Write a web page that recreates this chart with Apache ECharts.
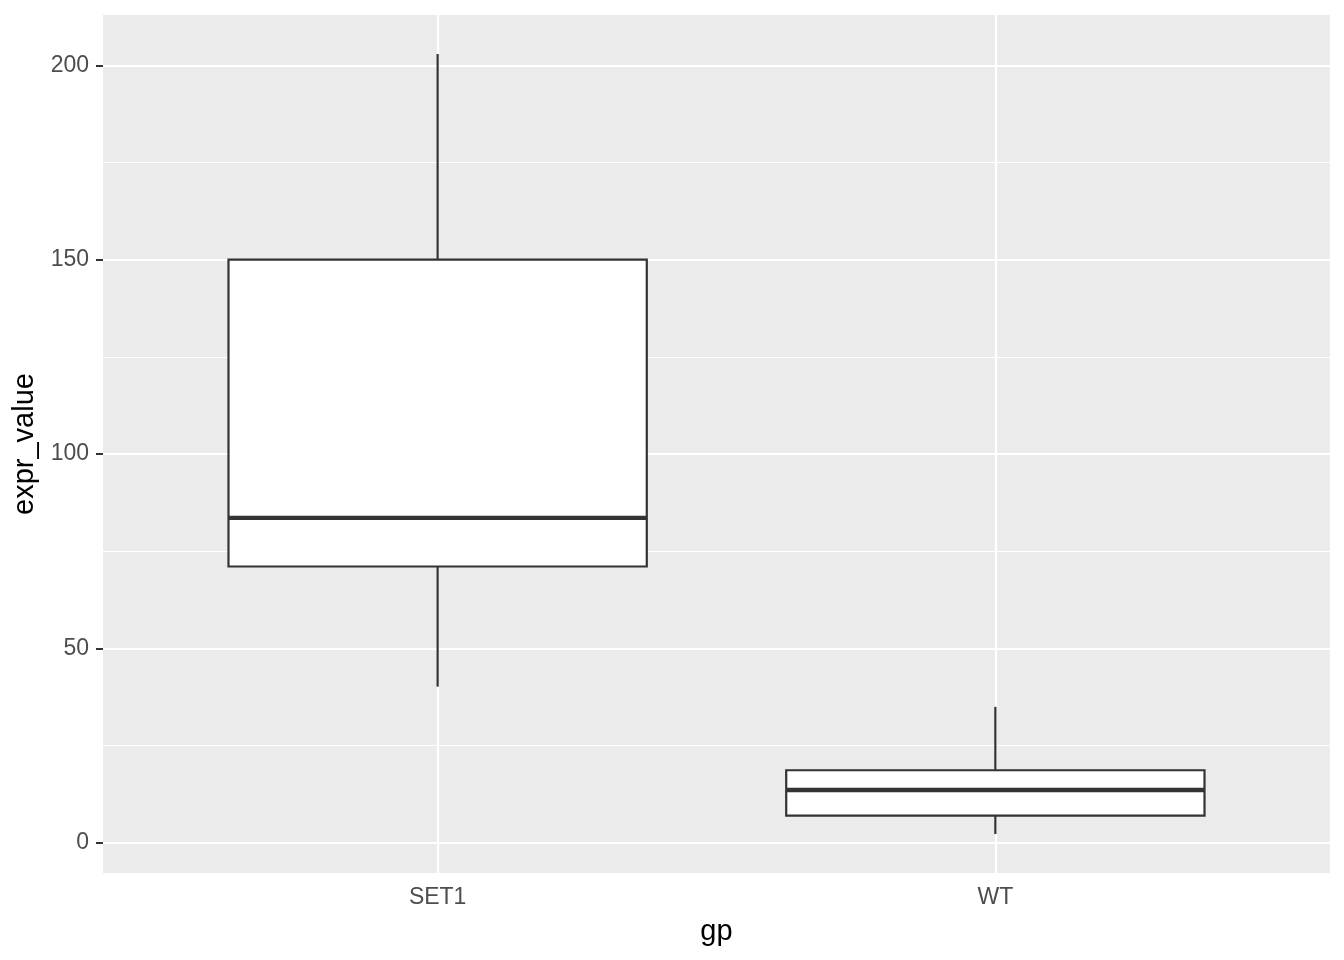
<!DOCTYPE html>
<html>
<head>
<meta charset="utf-8">
<script src="https://cdn.jsdelivr.net/npm/echarts@6/dist/echarts.min.js"></script>
<style>html,body{margin:0;padding:0;background:#fff}#c{width:1344px;height:960px}</style>
</head>
<body>
<div id="c"></div>
<script>
// Data
var categories = ['SET1', 'WT'];
var whiskerLow = [40.2, 2.3];
var q1 = [71.1, 7.0];
var median = [83.6, 13.6];
var q3 = [150.0, 18.7];
var whiskerHigh = [202.9, 35.0];
var yMajorTicks = [0, 50, 100, 150, 200];
var yMinorTicks = [25, 75, 125, 175];
var xTicks = [1, 2];

var boxData = categories.map(function (c, i) {
  return [i + 1, whiskerLow[i], q1[i], median[i], q3[i], whiskerHigh[i]];
});

var FONT = '"Liberation Sans", Arial, sans-serif';
var chart = echarts.init(document.getElementById('c'), null, {renderer: 'canvas'});

var gridMarks = [];
yMajorTicks.forEach(function (v) { gridMarks.push({yAxis: v, lineStyle: {width: 2.2}}); });
yMinorTicks.forEach(function (v) { gridMarks.push({yAxis: v, lineStyle: {width: 1.1}}); });
xTicks.forEach(function (v) { gridMarks.push({xAxis: v, lineStyle: {width: 2.2}}); });

chart.setOption({
  animation: false,
  grid: {left: 103, right: 14, top: 15, bottom: 87, show: true, backgroundColor: '#EBEBEB', borderWidth: 0},
  xAxis: {
    type: 'value', min: 0.4, max: 2.6,
    name: 'gp', nameLocation: 'middle', nameGap: 44,
    nameTextStyle: {color: '#000', fontSize: 29, fontFamily: FONT},
    axisLine: {show: false},
    axisTick: {show: true, customValues: xTicks, length: 7, lineStyle: {color: '#333', width: 2}},
    axisLabel: {customValues: xTicks, color: '#4D4D4D', fontSize: 23, fontFamily: FONT, margin: 13,
      formatter: function (v) { return categories[Math.round(v) - 1] || ''; }},
    splitLine: {show: false}
  },
  yAxis: {
    type: 'value', min: -7.73, max: 212.93,
    name: 'expr_value', nameLocation: 'middle', nameGap: 59,
    nameTextStyle: {color: '#000', fontSize: 29, fontFamily: FONT},
    axisLine: {show: false},
    axisTick: {show: true, customValues: yMajorTicks, length: 7, lineStyle: {color: '#333', width: 2}},
    axisLabel: {customValues: yMajorTicks, color: '#4D4D4D', fontSize: 23, fontFamily: FONT, margin: 14},
    splitLine: {show: false}
  },
  series: [
    {
      type: 'line', data: [], z: 1, silent: true,
      markLine: {silent: true, symbol: 'none', label: {show: false}, animation: false,
        lineStyle: {color: '#FFFFFF', type: 'solid'}, data: gridMarks}
    },
    {
      type: 'custom', z: 5, data: boxData,
      renderItem: function (params, api) {
        var x = api.value(0);
        var lo = api.coord([x, api.value(1)]);
        var b1 = api.coord([x, api.value(2)]);
        var md = api.coord([x, api.value(3)]);
        var b3 = api.coord([x, api.value(4)]);
        var hi = api.coord([x, api.value(5)]);
        var w = api.size([0.75, 0])[0];
        var stroke = {stroke: '#333333', lineWidth: 2.2};
        return {
          type: 'group',
          children: [
            {type: 'line', shape: {x1: hi[0], y1: hi[1], x2: b3[0], y2: b3[1]}, style: stroke},
            {type: 'line', shape: {x1: lo[0], y1: lo[1], x2: b1[0], y2: b1[1]}, style: stroke},
            {type: 'rect', shape: {x: b3[0] - w / 2, y: b3[1], width: w, height: b1[1] - b3[1]},
              style: {fill: '#FFFFFF', stroke: '#333333', lineWidth: 2.2}},
            {type: 'line', shape: {x1: md[0] - w / 2, y1: md[1], x2: md[0] + w / 2, y2: md[1]},
              style: {stroke: '#333333', lineWidth: 4.4}}
          ]
        };
      }
    }
  ]
});
</script>
</body>
</html>
